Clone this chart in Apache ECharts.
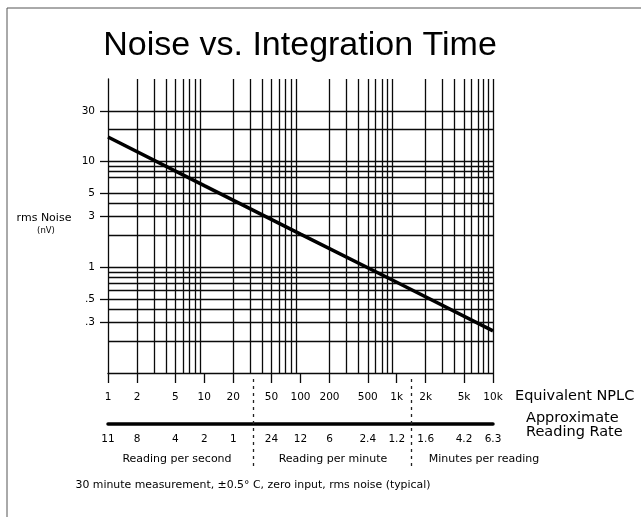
<!DOCTYPE html>
<html>
<head>
<meta charset="utf-8">
<script src="https://cdn.jsdelivr.net/npm/echarts@6/dist/echarts.min.js"></script>
<style>
  html, body { margin: 0; padding: 0; background: #fff; }
  #chart { width: 641px; height: 517px; }
</style>
</head>
<body>
<div id="chart"></div>
<script>
// rms noise (nV) measured at several integration times (NPLC)
const nplc = [1, 10, 100, 1000, 10000];
const noiseNv = [17, 5.9, 2.05, 0.72, 0.25];

// labelled ticks on the NPLC axis and the matching approximate reading rates
const nplcTicks = [1, 2, 5, 10, 20, 50, 100, 200, 500, 1000, 2000, 5000, 10000];
const rateLabels = ['11', '8', '4', '2', '1', '24', '12', '6', '2.4', '1.2', '1.6', '4.2', '6.3'];
const noiseTicks = [0.3, 0.5, 1, 3, 5, 10, 30];

// log-paper rulings
const nplcGrid = [2, 3, 4, 5, 6, 7, 8, 9,
  20, 30, 40, 50, 60, 70, 80, 90,
  200, 300, 400, 500, 600, 700, 800, 900,
  2000, 3000, 4000, 5000, 6000, 7000, 8000, 9000, 10000];
const noiseGrid = [0.2, 0.3, 0.4, 0.5, 0.6, 0.7, 0.8, 0.9,
  1, 2, 3, 4, 5, 7, 8, 9, 10, 20, 30];

// where the reading-rate units change (per second / per minute / minutes per reading)
const rateBreaks = [32, 1400];

const FONT = 'DejaVu Sans';
const INK = '#0a0a0a';

const fmtNplc = v => v >= 1000 ? (v / 1000) + 'k' : String(v);
const fmtNoise = v => v < 1 ? String(v).replace(/^0/, '') : String(v);
const fmtRate = v => {
  const i = nplcTicks.findIndex(t => Math.abs(t - v) / t < 1e-6);
  return i < 0 ? '' : rateLabels[i];
};

const chart = echarts.init(document.getElementById('chart'), null, { renderer: 'canvas' });

const smallText = { color: '#000', fontFamily: FONT, fontSize: 10.5 };

function txt(text, x, y, size, align, family) {
  return {
    type: 'text', x: x, y: y, silent: true,
    style: {
      text: text, fill: '#000',
      fontSize: size, fontFamily: family || FONT,
      align: align || 'center', textAlign: align || 'center',
      verticalAlign: 'middle', textVerticalAlign: 'middle'
    }
  };
}

chart.setOption({
  animation: false,
  backgroundColor: '#fff',
  grid: [
    { left: 108, top: 79, width: 385, height: 294 },
    { left: 108, top: 377, width: 385, height: 89 }
  ],
  xAxis: [
    {
      type: 'log', logBase: 10, gridIndex: 0, min: 1, max: 10000,
      axisLine: { show: true, lineStyle: { color: INK, width: 1.3 } },
      axisTick: { show: true, customValues: nplcTicks, length: 10, lineStyle: { color: INK, width: 1.3 } },
      axisLabel: Object.assign({ customValues: nplcTicks, formatter: fmtNplc, margin: 19 }, smallText),
      splitLine: { show: false },
      minorTick: { show: false }
    },
    {
      type: 'log', logBase: 10, gridIndex: 0, min: 1, max: 10000,
      position: 'bottom', offset: 51,
      axisLine: { show: true, lineStyle: { color: '#000', width: 3.5 } },
      axisTick: { show: false },
      axisLabel: Object.assign({ customValues: nplcTicks, formatter: fmtRate, margin: 10 }, smallText),
      splitLine: { show: false }
    },
    { type: 'log', logBase: 10, gridIndex: 1, min: 1, max: 10000, show: false }
  ],
  yAxis: [
    {
      type: 'log', logBase: 10, gridIndex: 0, min: 0.1, max: 60,
      axisLine: { show: true, lineStyle: { color: INK, width: 1.3 } },
      axisTick: { show: true, customValues: noiseTicks, length: 8, lineStyle: { color: INK, width: 1.3 } },
      axisLabel: Object.assign({ customValues: noiseTicks, formatter: fmtNoise, margin: 13 }, smallText),
      splitLine: { show: false },
      minorTick: { show: false }
    },
    { type: 'value', gridIndex: 1, min: 0, max: 1, show: false }
  ],
  series: [
    {
      name: 'rulings', type: 'line', xAxisIndex: 0, yAxisIndex: 0, data: [], z: 1, silent: true,
      markLine: {
        silent: true, animation: false, symbol: ['none', 'none'],
        label: { show: false }, emphasis: { disabled: true },
        lineStyle: { color: INK, width: 1.3, type: 'solid' },
        data: nplcGrid.map(v => ({ xAxis: v })).concat(noiseGrid.map(v => ({ yAxis: v })))
      }
    },
    {
      name: 'rms noise', type: 'line', xAxisIndex: 0, yAxisIndex: 0, z: 5,
      data: nplc.map((x, i) => [x, noiseNv[i]]),
      symbol: 'none', showSymbol: false,
      lineStyle: { color: '#000', width: 3.5 }
    },
    {
      name: 'rate breaks', type: 'line', xAxisIndex: 2, yAxisIndex: 1, data: [], silent: true,
      markLine: {
        silent: true, animation: false, symbol: ['none', 'none'],
        label: { show: false }, emphasis: { disabled: true },
        lineStyle: { color: '#222', width: 1.3, type: [3, 4] },
        data: rateBreaks.map(v => ({ xAxis: v }))
      }
    }
  ],
  graphic: [
    { type: 'line', silent: true, shape: { x1: 7, y1: 8, x2: 641, y2: 8 }, style: { stroke: '#555', lineWidth: 1 } },
    { type: 'line', silent: true, shape: { x1: 7, y1: 8, x2: 7, y2: 517 }, style: { stroke: '#555', lineWidth: 1 } },
    txt('Noise vs. Integration Time', 300, 46, 34, 'center', 'Liberation Sans'),
    txt('rms Noise', 44, 218, 11),
    txt('(nV)', 46, 231, 8.5),
    txt('Equivalent NPLC', 515, 396, 14.5, 'left'),
    txt('Approximate', 526, 418, 14.5, 'left'),
    txt('Reading Rate', 526, 432, 14.5, 'left'),
    txt('Reading per second', 177, 459, 11),
    txt('Reading per minute', 333, 459, 11),
    txt('Minutes per reading', 484, 459, 11),
    txt('30 minute measurement, \u00b10.5\u00b0 C, zero input, rms noise (typical)', 253, 485, 10.9)
  ]
});
</script>
</body>
</html>
